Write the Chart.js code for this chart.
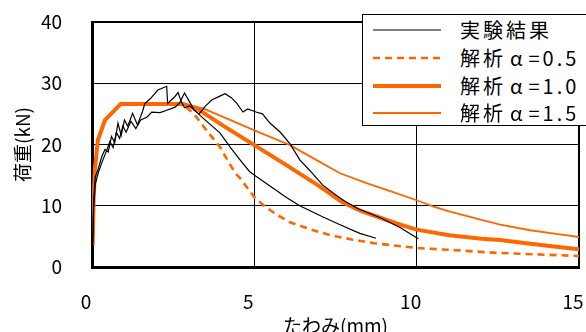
<!DOCTYPE html>
<html>
<head>
<meta charset="utf-8">
<script src="https://cdn.jsdelivr.net/npm/chart.js@4.4.1/dist/chart.umd.min.js"></script>
<style>
  html, body { margin:0; padding:0; background:#fff; overflow:hidden; }
  #wrap { position:relative; width:586px; height:332px; }
  canvas { position:absolute; left:0; top:0; }
  #legend { position:absolute; left:362px; top:14px; width:240px; height:112px;
            border:1.5px solid #000; background:#fff; box-sizing:border-box; }
  .item { position:absolute; left:0; height:28px; width:240px; }
  .item > svg { position:absolute; left:10px; top:0; }
  .item > span { position:absolute; left:97px; top:0; line-height:28px; font-size:20px;
               letter-spacing:3px; font-family:"Noto Sans CJK JP", sans-serif; color:#000; white-space:nowrap; }
  .alpha { margin:0 3px 0 4px; }
</style>
</head>
<body>
<div id="wrap">
  <canvas id="c" width="586" height="332"></canvas>
  <div id="legend"></div>
</div>
<script>
// ---- data (x: deflection mm, y: load kN) ----
const xTicks = [0, 5, 10, 15];
const yTicks = [0, 10, 20, 30, 40];

const expA_x = [0.02,0.05,0.1,0.18,0.3,0.4,0.5,0.6,0.7,0.8,0.9,1.0,1.1,1.25,1.4,1.55,1.63,1.8,2.03,2.3,2.33,2.45,2.55,2.65,2.75,2.85,3.0,3.2,3.42,3.7,3.94,4.25,4.56,4.85,5.05,5.57,6.0,6.4,7.1,7.64,8.25,8.75];
const expA_y = [3.2,11,14.7,15.8,18,19.2,18.8,21.3,20.3,23.5,21.5,24,23,25.1,23.2,25.3,26.7,27.5,28.9,29.5,26.7,27.3,27.8,28.5,27,26,26.3,25.4,24.3,23,21.9,19.6,17.5,15.6,14.8,12.9,11.3,10,8.2,6.9,5.5,4.7];

const expB_x = [0.02,0.05,0.1,0.2,0.3,0.45,0.55,0.65,0.75,0.85,0.95,1.05,1.2,1.35,1.5,1.7,1.84,2.1,2.3,2.56,2.7,2.85,3.0,3.15,3.3,3.5,3.7,3.94,4.1,4.3,4.46,4.65,4.8,5.05,5.25,5.48,5.8,6.1,6.4,6.7,7.1,7.5,7.8,8.2,8.9,9.5,10.05];
const expB_y = [3,9.5,13.5,15.5,17,19,20.5,19.5,22,21,23,22,23.8,22.6,24,24.5,25.3,25.2,25.6,26.1,26.8,28.4,27,25.6,25,26.3,27.3,27.9,28.3,27.6,26.7,25.3,25.8,25.3,25.0,23.5,22,20.1,17.5,15.8,13.4,11.8,10.7,9.5,8,6.4,4.6];

const a05_x = [0.02,0.05,0.09,0.18,0.4,0.88,2.8,3.17,3.5,3.94,4.4,4.56,5.0,5.3,5.7,6.1,6.7,7.33,8.0,8.66,10.0,11.0,12.5,15.0];
const a05_y = [3.5,11,16,20.7,24,26.6,26.6,24.8,22.5,19.6,15.4,14.5,11.4,10,8.5,7.3,6.2,5.2,4.5,3.9,3.1,2.8,2.3,1.8];

const a10_x = [0.02,0.05,0.09,0.18,0.4,0.88,2.8,3.2,4.0,5.0,6.0,7.0,7.7,8.3,8.9,9.5,10.0,11.0,12.0,12.57,13.5,14.3,15.0];
const a10_y = [3.5,11,16,20.7,24,26.6,26.6,26.0,23.2,19.9,16.6,13.2,10.6,9.1,8.0,6.9,6.1,5.2,4.6,4.4,3.8,3.3,2.9];

const a15_x = [0.02,0.05,0.09,0.18,0.4,0.88,2.8,3.42,4.0,5.0,6.1,7.0,7.64,8.5,9.3,10.0,10.5,11.0,12.0,12.57,13.5,14.3,15.0];
const a15_y = [3.5,11,16,20.7,24,26.6,26.6,25.9,24.6,22.3,19.9,17.2,15.3,13.6,12.2,10.9,9.9,9.1,7.7,6.9,6.0,5.4,4.9];

const labels = ['実験結果', '解析α=0.5', '解析α=1.0', '解析α=1.5'];

const pts = (xs, ys) => xs.map((x, i) => ({x: x, y: ys[i]}));
const ORANGE = '#ff6600';
const FAM = '"Noto Sans CJK JP", "Noto Sans", sans-serif';

const common = {pointRadius: 0, tension: 0, fill: false};
const datasets = [
  Object.assign({label: labels[0], data: pts(expA_x, expA_y), borderColor: '#000', borderWidth: 1.2}, common),
  Object.assign({label: labels[0], data: pts(expB_x, expB_y), borderColor: '#000', borderWidth: 1.2}, common),
  Object.assign({label: labels[1], data: pts(a05_x, a05_y), borderColor: ORANGE, borderWidth: 2.6, borderDash: [7, 5]}, common),
  Object.assign({label: labels[2], data: pts(a10_x, a10_y), borderColor: ORANGE, borderWidth: 4}, common),
  Object.assign({label: labels[3], data: pts(a15_x, a15_y), borderColor: ORANGE, borderWidth: 1.8}, common)
];

new Chart(document.getElementById('c'), {
  type: 'line',
  data: {datasets: datasets},
  options: {
    responsive: false,
    animation: false,
    layout: {padding: {top: 22, right: 7, left: 0, bottom: 0}},
    plugins: {legend: {display: false}, tooltip: {enabled: false}},
    scales: {
      x: {
        type: 'linear', min: 0, max: 15,
        afterBuildTicks: s => { s.ticks = xTicks.map(v => ({value: v})); },
        afterFit: s => { s.height = 65; s.paddingLeft = 0; s.paddingRight = 0; s.paddingTop = 0; s.paddingBottom = 0; },
        ticks: {padding: 23, labelOffset: -6, color: '#000', font: {size: 19, family: FAM}},
        grid: {drawTicks: false, color: '#000', lineWidth: c => (c.tick && c.tick.value === 15) ? 2 : 1},
        border: {color: '#000', width: 3},
        title: {display: true, text: 'たわみ(mm)', color: '#000', font: {size: 19, family: FAM, lineHeight: 1}, padding: {top: 0, bottom: -3}}
      },
      y: {
        min: 0, max: 40,
        afterBuildTicks: s => { s.ticks = yTicks.map(v => ({value: v})); },
        afterFit: s => { s.width = 92; s.paddingLeft = 0; s.paddingRight = 0; s.paddingTop = 0; s.paddingBottom = 0; },
        ticks: {padding: 30, color: '#000', font: {size: 19, family: FAM}},
        grid: {drawTicks: false, color: '#000', lineWidth: c => (c.tick && c.tick.value === 40) ? 2 : 1},
        border: {color: '#000', width: 3},
        title: {display: true, text: '荷重(kN)', color: '#000', font: {size: 19, family: FAM, lineHeight: 1}, padding: {top: 13, bottom: 0}}
      }
    }
  }
});

// ---- HTML legend built from the datasets' styles ----
const legendItems = [
  {text: labels[0], color: '#000', width: 1.2, dash: ''},
  {text: labels[1], color: ORANGE, width: 2.6, dash: '7 5'},
  {text: labels[2], color: ORANGE, width: 4, dash: ''},
  {text: labels[3], color: ORANGE, width: 1.8, dash: ''}
];
const lg = document.getElementById('legend');
const rowTops = [1, 29, 57, 84];
legendItems.forEach((it, i) => {
  const d = document.createElement('div');
  d.className = 'item';
  d.style.top = rowTops[i] + 'px';
  d.innerHTML = '<svg width="70" height="28"><line x1="0" y1="14" x2="68" y2="14" stroke="' + it.color +
    '" stroke-width="' + it.width + '"' + (it.dash ? ' stroke-dasharray="' + it.dash + '"' : '') + '/></svg>' +
    '<span>' + it.text.replace('α', '<span class="alpha">α</span>') + '</span>';
  lg.appendChild(d);
});
</script>
</body>
</html>
